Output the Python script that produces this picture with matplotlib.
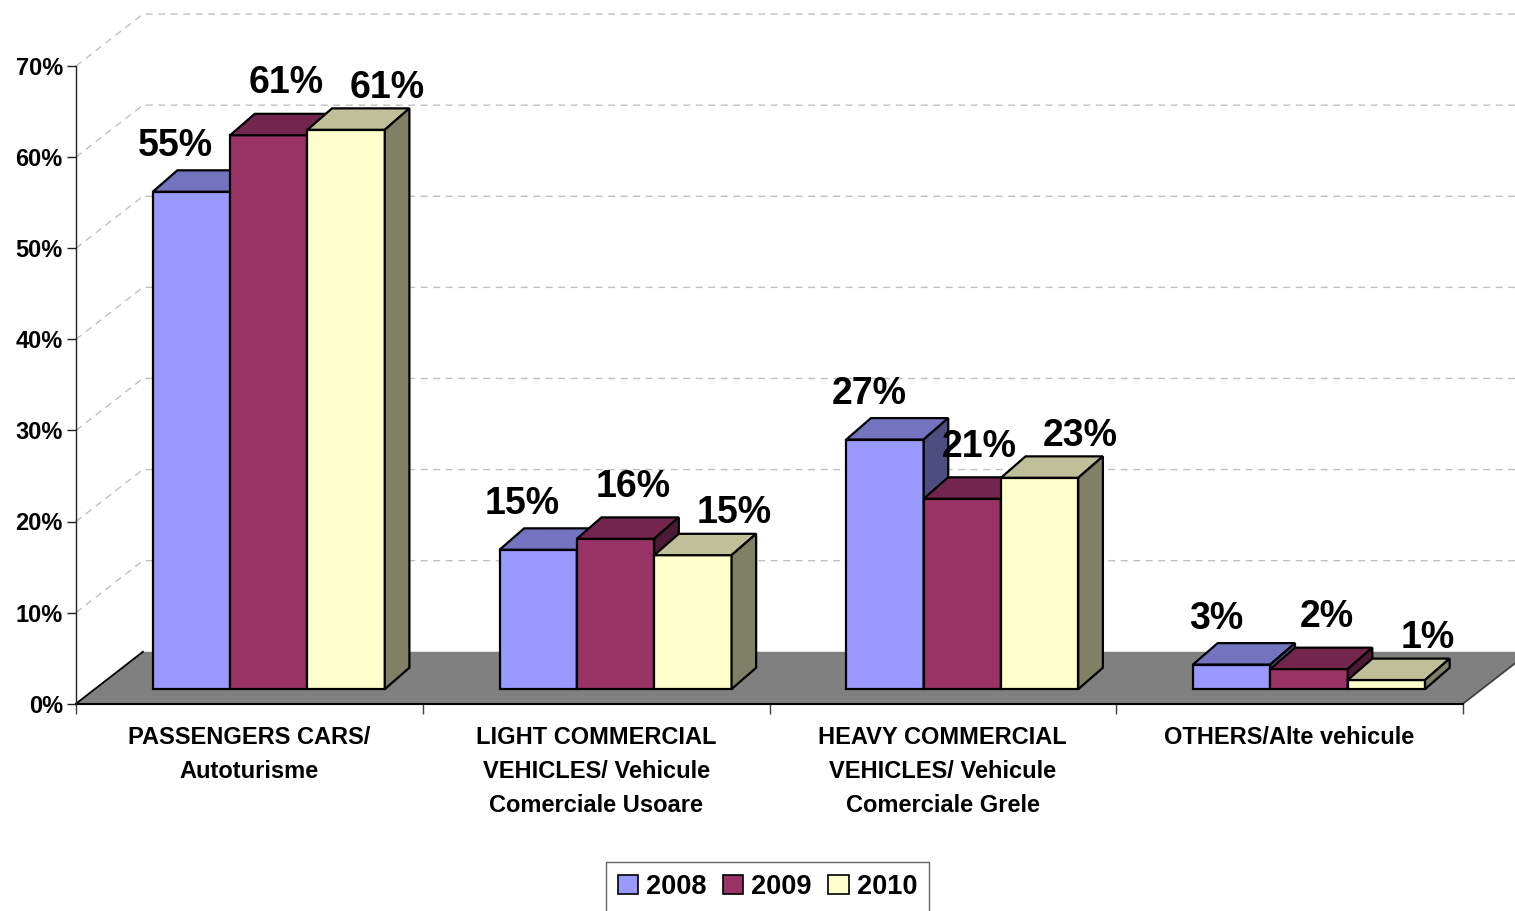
"""
Vehicle market share by category, 2008-2010, drawn as an Excel-like 3D column chart.
"""

import numpy as np
import matplotlib
matplotlib.use("Agg")
import matplotlib.pyplot as plt
from matplotlib.colors import to_rgb
from matplotlib.patches import Polygon, Rectangle, Patch

plt.rcParams['font.family'] = ['Liberation Sans', 'DejaVu Sans']
plt.rcParams['font.weight'] = 'bold'

CATEGORIES = ["PASSENGERS CARS/\nAutoturisme",
              "LIGHT COMMERCIAL\nVEHICLES/ Vehicule\nComerciale Usoare",
              "HEAVY COMMERCIAL\nVEHICLES/ Vehicule\nComerciale Grele",
              "OTHERS/Alte vehicule"]
YEARS = ["2008", "2009", "2010"]

# Shares in percent.
SHARE_2008 = [54.6, 15.3, 27.4, 2.7]
SHARE_2009 = [60.8, 16.5, 20.9, 2.2]
SHARE_2010 = [61.4, 14.7, 23.2, 1.0]

Y_TICKS = [0, 10, 20, 30, 40, 50, 60, 70]

COLORS = ["#9999FF", "#993366", "#FFFFCC"]

# Oblique projection of the "depth" axis, in data units (x: categories, y: percent).
WALL_DX, WALL_DY = 0.193, 5.7    # floor / back wall depth
PLANE_DX, PLANE_DY = 0.056, 1.6  # where the bars' front faces sit
BAR_DX, BAR_DY = 0.071, 2.35     # depth of a single bar
BAR_W = 0.223

# Per-series nudge of the value labels (x in category units, y in percent).
LABEL_NUDGE = [(-0.045, 3.9), (0.050, 4.6), (0.118, 3.5)]


def shade(color, factor):
    return tuple(c * factor for c in to_rgb(color))


def draw_bar(ax, x0, value, color):
    """Front, top and side faces of one 3D column."""
    y0 = PLANE_DY
    y1 = PLANE_DY + value
    x1 = x0 + BAR_W
    kw = dict(edgecolor='black', linewidth=1.6, clip_on=False, zorder=3)
    ax.add_patch(Rectangle((x0, y0), BAR_W, value, facecolor=color, **kw))
    ax.add_patch(Polygon([(x0, y1), (x1, y1), (x1 + BAR_DX, y1 + BAR_DY),
                          (x0 + BAR_DX, y1 + BAR_DY)],
                         facecolor=shade(color, 0.75), **kw))
    ax.add_patch(Polygon([(x1, y0), (x1 + BAR_DX, y0 + BAR_DY),
                          (x1 + BAR_DX, y1 + BAR_DY), (x1, y1)],
                         facecolor=shade(color, 0.5), **kw))


def main():
    fig = plt.figure(figsize=(15.15, 9.11), dpi=100)
    ax = fig.add_axes([76 / 1515, 207.3 / 911, 1387 / 1515, 637.7 / 911])
    ax.set_xlim(-0.5, 3.5)
    ax.set_ylim(0, 70)
    ax.patch.set_visible(False)

    n_cat = len(CATEGORIES)

    # back wall gridlines and their runs along the left wall
    for v in Y_TICKS[1:]:
        ax.plot([-0.5, -0.5 + WALL_DX, 3.5 + WALL_DX], [v, v + WALL_DY, v + WALL_DY],
                color='#C0C0C0', lw=1, ls=(0, (5, 4)), clip_on=False, zorder=0)

    # floor
    ax.add_patch(Polygon([(-0.5, 0), (3.5, 0), (3.5 + WALL_DX, WALL_DY),
                          (-0.5 + WALL_DX, WALL_DY)],
                         facecolor='#808080', edgecolor='none', clip_on=False, zorder=1))
    ax.plot([-0.5, -0.5 + WALL_DX], [0, WALL_DY], color='black', lw=1.3,
            clip_on=False, zorder=2)
    ax.plot([3.5, 3.5 + WALL_DX], [0, WALL_DY], color='#404040', lw=1.3,
            clip_on=False, zorder=2)

    series = [SHARE_2008, SHARE_2009, SHARE_2010]
    group_w = BAR_W * len(series)
    for i in range(n_cat):
        left = i + PLANE_DX - group_w / 2
        for j, vals in enumerate(series):
            x0 = left + j * BAR_W
            draw_bar(ax, x0, vals[i], COLORS[j])
            dx, dy = LABEL_NUDGE[j]
            ax.text(x0 + BAR_W / 2 + dx, PLANE_DY + vals[i] + dy, f"{vals[i]:.0f}%",
                    ha='center', va='baseline', fontsize=27, fontweight='bold',
                    clip_on=False, zorder=5)

    # axes styling
    for side in ('top', 'right'):
        ax.spines[side].set_visible(False)
    ax.spines['left'].set_color('#202020')
    ax.spines['left'].set_linewidth(1.0)
    ax.spines['bottom'].set_color('black')
    ax.spines['bottom'].set_linewidth(1.5)
    ax.spines['bottom'].set_zorder(2)

    ax.set_yticks(Y_TICKS)
    ax.set_yticklabels([f"{v}%" for v in Y_TICKS])
    ax.tick_params(axis='y', length=6.5, width=1, color='#202020', pad=3,
                   labelsize=17)

    ax.set_xticks(np.arange(n_cat + 1) - 0.5)
    ax.set_xticklabels([])
    ax.tick_params(axis='x', which='major', length=7, width=1, color='#404040')
    ax.set_xticks(np.arange(n_cat), minor=True)
    ax.set_xticklabels(CATEGORIES, minor=True)
    ax.tick_params(axis='x', which='minor', length=0, pad=16, labelsize=17)
    for lbl in ax.get_xticklabels(minor=True):
        lbl.set_linespacing(1.62)
        lbl.set_fontweight('bold')
    for lbl in ax.get_yticklabels():
        lbl.set_fontweight('bold')

    handles = [Patch(facecolor=c, edgecolor='black', linewidth=1.2) for c in COLORS]
    leg = fig.legend(handles, YEARS, loc='center', bbox_to_anchor=(767.5 / 1515, 1 - 887 / 911),
                     ncol=3, frameon=True, fancybox=False,
                     handlelength=0.75, handleheight=0.75, handletextpad=0.3,
                     columnspacing=0.6, borderpad=0.45, prop={'weight': 'bold', 'size': 19.5})
    leg.get_frame().set_edgecolor('#404040')
    leg.get_frame().set_linewidth(1.0)

    fig.savefig("out.png", dpi=100)


if __name__ == "__main__":
    main()
